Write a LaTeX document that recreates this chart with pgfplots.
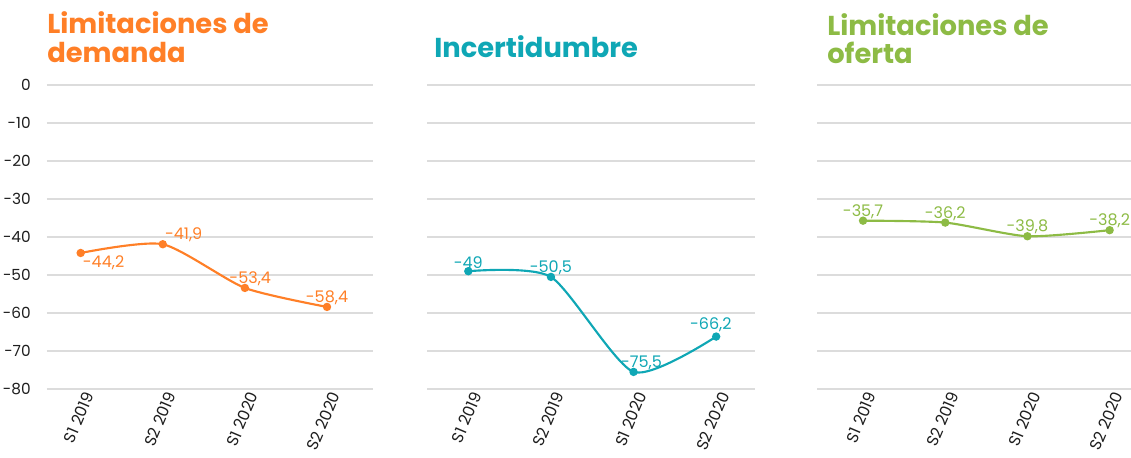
\documentclass[border=0pt]{standalone}
\usepackage{fontspec}
\setmainfont{Poppins}
\usepackage{pgfplots}
\pgfplotsset{compat=1.18}

\definecolor{cOrange}{HTML}{FF7F27}
\definecolor{cTeal}{HTML}{0FA7B5}
\definecolor{cGreen}{HTML}{8DBB45}
\definecolor{cGrid}{HTML}{DCDCDC}
\definecolor{cText}{HTML}{1E1E1E}

\newcommand{\titlefont}{\fontsize{20.5}{22}\selectfont\bfseries}

\pgfplotsset{
  panel/.style={
    scale only axis,
    height=228pt,
    anchor=south west,
    ymin=-80, ymax=0,
    ytick={0,-10,-20,-30,-40,-50,-60,-70,-80},
    yticklabels={0,-10,-20,-30,-40,-50,-60,-70,-80},
    xtick={0,1,2,3},
    xticklabels={S1 2019,S2 2019,S1 2020,S2 2020},
    axis line style={draw=none},
    major tick length=0pt,
    tick style={draw=none},
    ymajorgrids,
    grid style={cGrid, line width=0.8pt},
    ticklabel style={text=cText, font=\fontsize{11.5}{13}\selectfont},
    xticklabel style={rotate=67, anchor=east, inner sep=0pt, yshift=-7pt,
      font=\fontsize{12}{13}\selectfont},
    yticklabel style={anchor=east, inner sep=0pt, xshift=-12pt},
    clip=false,
  },
  serie/.style={
    #1, line width=1.6pt, smooth, tension=0.4, mark=*, mark size=2.3pt,
    mark options={solid, fill=#1},
  },
  etiq/.style 2 args={
    draw=none, mark=none, nodes near coords,
    point meta=explicit symbolic,
    every node near coord/.append style={anchor=#2, inner sep=1.5pt,
      text=#1, font=\fontsize{12}{13}\selectfont},
  },
}

\begin{document}
\begin{tikzpicture}
\path[use as bounding box] (0,0) rectangle (848.25pt,-342.75pt);

% titulos
\node[anchor=base west, inner sep=0pt, font=\titlefont, text=cOrange] at (35.25pt,-24.75pt) {Limitaciones de};
\node[anchor=base west, inner sep=0pt, font=\titlefont, text=cOrange] at (35.25pt,-46.5pt) {demanda};
\node[anchor=base west, inner sep=0pt, font=\titlefont, text=cTeal] at (325.5pt,-42.75pt) {Incertidumbre};
\node[anchor=base west, inner sep=0pt, font=\titlefont, text=cGreen] at (620.25pt,-26.25pt) {Limitaciones de};
\node[anchor=base west, inner sep=0pt, font=\titlefont, text=cGreen] at (620.25pt,-47.25pt) {oferta};

\begin{axis}[panel, at={(35.25pt,-291.75pt)}, width=244.5pt, xmin=-0.41, xmax=3.56]
\addplot[serie=cOrange] coordinates {(0,-44.2) (1,-41.9) (2,-53.4) (3,-58.4)};
\addplot[etiq={cOrange}{north west}] coordinates {(0,-44.2) [{-44,2}]};
\addplot[etiq={cOrange}{south west}] coordinates {(1,-41.9) [{-41,9}]};
\addplot[etiq={cOrange}{south, xshift=4pt}] coordinates {(2,-53.4) [{-53,4}]};
\addplot[etiq={cOrange}{south}] coordinates {(3,-58.4) [{-58,4}]};
\end{axis}

\begin{axis}[panel, at={(320.25pt,-291.75pt)}, width=246pt, xmin=-0.5, xmax=3.47, yticklabels={}]
\addplot[serie=cTeal] coordinates {(0,-49) (1,-50.5) (2,-75.5) (3,-66.2)};
\addplot[etiq={cTeal}{south}] coordinates {(0,-49) [{-49}] (1,-50.5) [{-50,5}]};
\addplot[etiq={cTeal}{south, xshift=6pt}] coordinates {(2,-75.5) [{-75,5}]};
\addplot[etiq={cTeal}{south, xshift=-4pt, yshift=2pt}] coordinates {(3,-66.2) [{-66,2}]};
\end{axis}

\begin{axis}[panel, at={(612.75pt,-291.75pt)}, width=235.5pt, xmin=-0.56, xmax=3.26, yticklabels={}]
\addplot[serie=cGreen] coordinates {(0,-35.7) (1,-36.2) (2,-39.8) (3,-38.2)};
\addplot[etiq={cGreen}{south}] coordinates {(0,-35.7) [{-35,7}] (1,-36.2) [{-36,2}] (2,-39.8) [{-39,8}] (3,-38.2) [{-38,2}]};
\end{axis}
\end{tikzpicture}
\end{document}
